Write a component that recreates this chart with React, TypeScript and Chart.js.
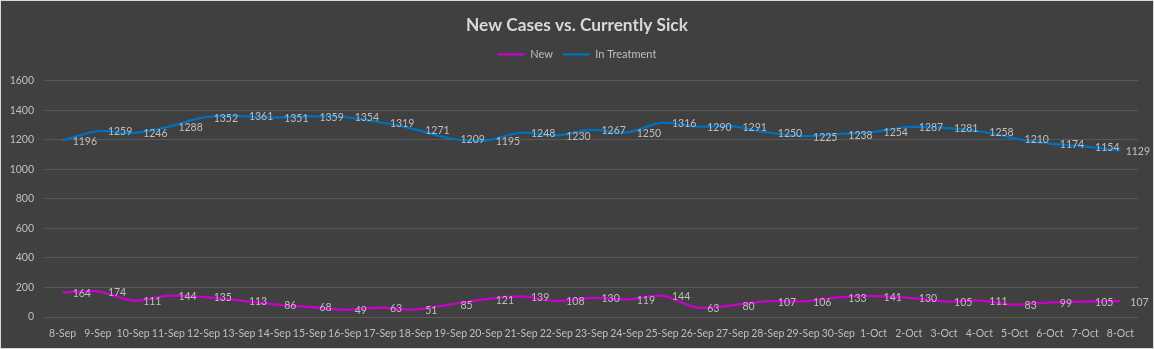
import React, { useEffect, useRef } from "react";
import { Chart, registerables } from "chart.js";

Chart.register(...registerables);

const title = "New Cases vs. Currently Sick";
const seriesNames = ["New", "In Treatment"];
const categories = [
  "8-Sep", "9-Sep", "10-Sep", "11-Sep", "12-Sep", "13-Sep", "14-Sep", "15-Sep",
  "16-Sep", "17-Sep", "18-Sep", "19-Sep", "20-Sep", "21-Sep", "22-Sep", "23-Sep",
  "24-Sep", "25-Sep", "26-Sep", "27-Sep", "28-Sep", "29-Sep", "30-Sep",
  "1-Oct", "2-Oct", "3-Oct", "4-Oct", "5-Oct", "6-Oct", "7-Oct", "8-Oct",
];
const newCases = [
  164, 174, 111, 144, 135, 113, 86, 68, 49, 63, 51, 85, 121, 139, 108, 130,
  119, 144, 63, 80, 107, 106, 133, 141, 130, 105, 111, 83, 99, 105, 107,
];
const inTreatment = [
  1196, 1259, 1246, 1288, 1352, 1361, 1351, 1359, 1354, 1319, 1271, 1209, 1195,
  1248, 1230, 1267, 1250, 1316, 1290, 1291, 1250, 1225, 1238, 1254, 1287, 1281,
  1258, 1210, 1174, 1154, 1129,
];
const yMin = 0;
const yMax = 1600;
const yStep = 200;

const FONT = "Lato";
const TEXT = "#bfbfbf";
const SMALL = 10.5;

const pointLabels = {
  id: "pointLabels",
  afterDatasetsDraw(chart: any) {
    const ctx = chart.ctx;
    ctx.save();
    ctx.font = `${SMALL}px ${FONT}`;
    ctx.fillStyle = TEXT;
    ctx.textBaseline = "middle";
    ctx.textAlign = "left";
    chart.data.datasets.forEach((ds: any, i: number) => {
      const meta = chart.getDatasetMeta(i);
      meta.data.forEach((pt: any, j: number) => {
        const text = String(ds.data[j]);
        const w = ctx.measureText(text).width;
        let x = pt.x + 10;
        if (x + w > chart.width - 3) x = chart.width - 3 - w;
        ctx.fillText(text, x, pt.y + 1);
      });
    });
    ctx.restore();
  },
};

const hiddenAxis = {
  display: true,
  grid: { display: false, drawTicks: false },
  border: { display: false },
  ticks: { display: false },
};

export default function App() {
  const ref = useRef<HTMLCanvasElement>(null);
  useEffect(() => {
    document.body.style.margin = "0";
    const chart = new Chart(ref.current!, {
      type: "line",
      data: {
        labels: categories,
        datasets: [
          {
            label: seriesNames[0],
            data: newCases,
            borderColor: "#cc00cc",
            backgroundColor: "#cc00cc",
            borderWidth: 2.25,
            pointRadius: 0,
            tension: 0.3,
          },
          {
            label: seriesNames[1],
            data: inTreatment,
            borderColor: "#0070c0",
            backgroundColor: "#0070c0",
            borderWidth: 2.25,
            pointRadius: 0,
            tension: 0.3,
          },
        ],
      },
      options: {
        responsive: false,
        animation: false,
        layout: { padding: 0 },
        plugins: {
          title: {
            display: true,
            text: title,
            color: "#d9d9d9",
            font: { family: FONT, size: 17.3, weight: "bold" },
            padding: { top: 14, bottom: 3 },
          },
          legend: {
            display: true,
            labels: {
              color: TEXT,
              font: { family: FONT, size: 11 },
              usePointStyle: true,
              pointStyle: "line",
              pointStyleWidth: 27,
              boxHeight: 11,
              padding: 10,
            },
          },
          tooltip: { enabled: false },
        },
        scales: {
          x: {
            offset: true,
            grid: { display: false, drawTicks: false },
            border: { display: false },
            ticks: {
              color: TEXT,
              font: { family: FONT, size: SMALL },
              autoSkip: false,
              maxRotation: 0,
              minRotation: 0,
              padding: 10,
            },
            afterFit: (s: any) => {
              s.height = 31;
            },
          },
          xTopSpacer: {
            type: "linear",
            axis: "x",
            position: "top",
            ...hiddenAxis,
            afterFit: (s: any) => {
              s.height = 11;
            },
          },
          y: {
            min: yMin,
            max: yMax,
            grid: { color: "#595959", drawTicks: false, lineWidth: 1 },
            border: { display: false },
            ticks: {
              stepSize: yStep,
              color: TEXT,
              font: { family: FONT, size: SMALL },
              padding: 11,
              callback: (v: any) => String(v),
            },
            afterFit: (s: any) => {
              s.width = 44;
            },
          },
          yRightSpacer: {
            type: "linear",
            axis: "y",
            position: "right",
            ...hiddenAxis,
            afterFit: (s: any) => {
              s.width = 15;
            },
          },
        },
      },
      plugins: [pointLabels],
    });
    return () => chart.destroy();
  }, []);
  return (
    <div
      style={{
        width: 1154,
        height: 349,
        boxSizing: "border-box",
        border: "1px solid #d9d9d9",
        background: "#404040",
      }}
    >
      <canvas ref={ref} width={1152} height={347} style={{ display: "block" }} />
    </div>
  );
}
